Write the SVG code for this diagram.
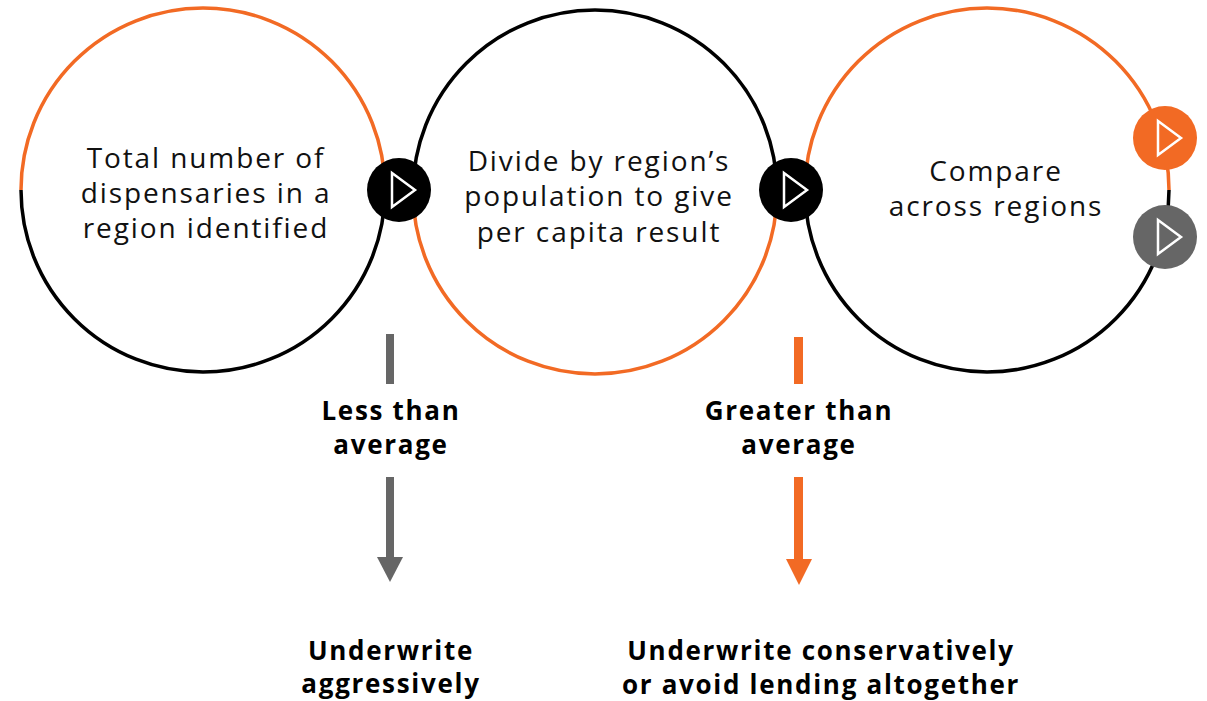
<svg xmlns="http://www.w3.org/2000/svg" width="1207" height="701" viewBox="0 0 1207 701">
  <style>
    .ring { fill: none; stroke-width: 3.5; }
    .orange { stroke: #F26A24; }
    .black { stroke: #000000; }
    .label { font-family: "Open Sans", "Liberation Sans", sans-serif; font-size: 28px; letter-spacing: 1.9px; fill: #111111; text-anchor: middle; }
    .bold { font-family: "Open Sans", "Liberation Sans", sans-serif; font-size: 26px; letter-spacing: 1.7px; font-weight: 700; fill: #000000; text-anchor: middle; }
    .play { fill: none; stroke: #ffffff; stroke-width: 2.5; stroke-linejoin: miter; }
  </style>
  <defs>
    <g id="playIcon">
      <polygon class="play" points="-9,-17 14,0 -9,17"/>
    </g>
  </defs>
  <rect width="1207" height="701" fill="#ffffff"/>

  <!-- Step 1 -->
  <g id="step1">
    <path class="ring orange" d="M21,190 A182,182 0 0 1 385,190"/>
    <path class="ring black" d="M21,190 A182,182 0 0 0 385,190"/>
    <text class="label" x="206" y="168">Total number of</text>
    <text class="label" x="206" y="203">dispensaries in a</text>
    <text class="label" x="206" y="238">region identified</text>
  </g>

  <!-- Step 2 -->
  <g id="step2">
    <path class="ring black" d="M413,192 A182,182 0 0 1 777,192"/>
    <path class="ring orange" d="M413,192 A182,182 0 0 0 777,192"/>
    <text class="label" x="599" y="171">Divide by region’s</text>
    <text class="label" x="599" y="206">population to give</text>
    <text class="label" x="599" y="242">per capita result</text>
  </g>

  <!-- Step 3 -->
  <g id="step3">
    <path class="ring orange" d="M805,190 A182,182 0 0 1 1169,190"/>
    <path class="ring black" d="M805,190 A182,182 0 0 0 1169,190"/>
    <text class="label" x="996" y="181">Compare</text>
    <text class="label" x="996" y="216">across regions</text>
  </g>

  <!-- Flow buttons and outcome arrows -->
  <g id="connectors">
    <g id="next1" transform="translate(399,190)">
      <circle r="32" fill="#000000"/>
      <use href="#playIcon" x="2"/>
    </g>
    <g id="next2" transform="translate(791,190)">
      <circle r="32" fill="#000000"/>
      <use href="#playIcon" x="2"/>
    </g>
    <g id="toHigh" transform="translate(1165,138)">
      <circle r="32" fill="#F26A24"/>
      <use href="#playIcon" x="2"/>
    </g>
    <g id="toLow" transform="translate(1165,237)">
      <circle r="32" fill="#666666"/>
      <use href="#playIcon" x="2"/>
    </g>

    <g id="arrowLow" fill="#666666">
      <rect x="386" y="334" width="8" height="50"/>
      <rect x="386" y="477" width="8" height="82"/>
      <polygon points="377,557 403,557 390,582"/>
    </g>
    <g id="arrowHigh" fill="#F26A24">
      <rect x="794" y="337" width="9" height="47"/>
      <rect x="794" y="477" width="9" height="84"/>
      <polygon points="786,559 812,559 799,585"/>
    </g>
  </g>

  <!-- Outcome labels -->
  <g id="lowBranch">
    <text class="bold" x="391" y="420">Less than</text>
    <text class="bold" x="391" y="454">average</text>
    <text class="bold" x="391" y="660">Underwrite</text>
    <text class="bold" x="391" y="693">aggressively</text>
  </g>
  <g id="highBranch">
    <text class="bold" x="799" y="420">Greater than</text>
    <text class="bold" x="799" y="454">average</text>
    <text class="bold" x="821" y="660">Underwrite conservatively</text>
    <text class="bold" x="821" y="694">or avoid lending altogether</text>
  </g>
</svg>
